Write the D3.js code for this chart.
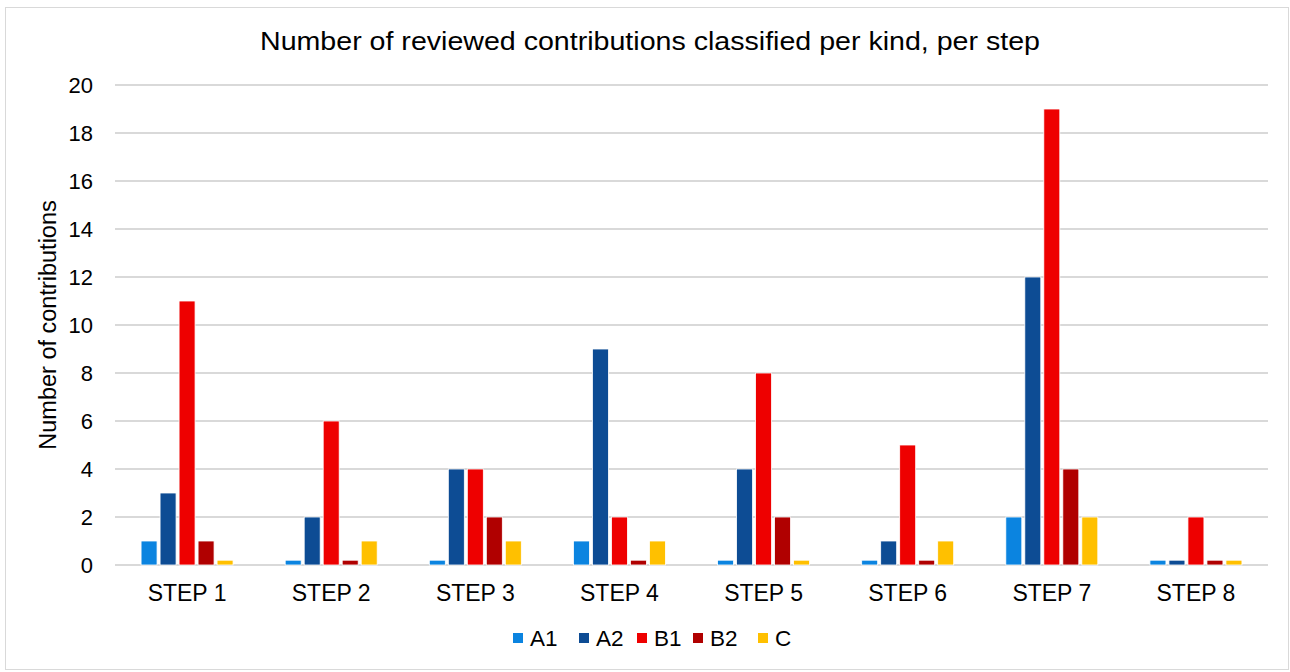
<!DOCTYPE html>
<html><head><meta charset="utf-8">
<script src="https://cdn.jsdelivr.net/npm/d3@7"></script>
<style>body{margin:0;background:#fff;} text{font-family:"Liberation Sans",Arial,sans-serif;fill:#000;}</style>
</head><body>
<svg id="c" width="1290" height="672"></svg>
<script>
const categories = ["STEP 1","STEP 2","STEP 3","STEP 4","STEP 5","STEP 6","STEP 7","STEP 8"];
const seriesNames = ["A1","A2","B1","B2","C"];
const A1 = [1, 0.2, 0.2, 1, 0.2, 0.2, 2, 0.2];
const A2 = [3, 2, 4, 9, 4, 1, 12, 0.2];
const B1 = [11, 6, 4, 2, 8, 5, 19, 2];
const B2 = [1, 0.2, 2, 0.2, 2, 0.2, 4, 0.2];
const C  = [0.2, 1, 1, 1, 0.2, 1, 2, 0.2];
const yTicks = [0,2,4,6,8,10,12,14,16,18,20];
const colors = ["#0b84e0","#0d4c94","#ee0000","#b00000","#ffc000"];
const seriesValues = [A1, A2, B1, B2, C];

const svg = d3.select("#c");
svg.append("rect").attr("x",5.5).attr("y",7.5).attr("width",1283).attr("height",662)
  .attr("fill","#fff").attr("stroke","#d9d9d9").attr("stroke-width",1);

const m = {left:115, right:1268, top:85, bottom:565};
const x = d3.scaleBand().domain(categories).range([m.left, m.right]).paddingInner(0).paddingOuter(0);
const xs = d3.scaleBand().domain(seriesNames).range([0, 92]).paddingInner(0.158);
const y = d3.scaleLinear().domain([0,20]).range([m.bottom, m.top]);

// gridlines
svg.append("g").selectAll("line").data(yTicks).join("line")
  .attr("x1", m.left).attr("x2", m.right)
  .attr("y1", d=>y(d)).attr("y2", d=>y(d))
  .attr("stroke","#d9d9d9").attr("stroke-width",2);

// y axis labels
const yAxis = d3.axisLeft(y).tickValues(yTicks).tickSize(0).tickPadding(0);
const gy = svg.append("g").attr("transform",`translate(93,0)`).call(yAxis);
gy.select(".domain").remove();
gy.selectAll("text").style("font-size","22px").style("font-family","Liberation Sans, Arial, sans-serif").attr("fill","#000");

// x axis labels
const xAxis = d3.axisBottom(x).tickSize(0).tickPadding(0);
const gx = svg.append("g").attr("transform",`translate(0,601)`).call(xAxis);
gx.select(".domain").remove();
gx.selectAll("text").attr("dy", null).attr("y", 0).style("font-size","23px").style("font-family","Liberation Sans, Arial, sans-serif").attr("fill","#000");

// bars
const groups = svg.append("g").selectAll("g").data(categories).join("g")
  .attr("transform", c => `translate(${x(c) + x.bandwidth()/2 - 46},0)`);
groups.selectAll("rect").data((c,i) => seriesNames.map((s,j)=>({s, v: seriesValues[j][i], j})))
  .join("rect")
  .attr("x", d => xs(d.s)).attr("width", xs.bandwidth())
  .attr("y", d => y(d.v)).attr("height", d => y(0) - y(d.v))
  .attr("fill", d => colors[d.j]).attr("stroke","#fff").attr("stroke-width",0.8);

// title
svg.append("text").attr("x",650).attr("y",50).attr("text-anchor","middle")
  .attr("textLength",780).attr("lengthAdjust","spacingAndGlyphs")
  .style("font-size","25px").text("Number of reviewed contributions classified per kind, per step");

// y title
svg.append("text").attr("transform","translate(56,325) rotate(-90)").attr("text-anchor","middle")
  .style("font-size","23.5px").text("Number of contributions");

// legend
const legendX = [513, 579, 637, 693, 758];
const lg = svg.append("g").selectAll("g").data(seriesNames).join("g")
  .attr("transform",(d,i)=>`translate(${legendX[i]},646)`);
lg.append("rect").attr("width",10).attr("height",10).attr("y",-13).attr("fill",(d,i)=>colors[i]);
lg.append("text").attr("x",17).attr("y",0).style("font-size","22.5px").text(d=>d);
</script>
</body></html>
